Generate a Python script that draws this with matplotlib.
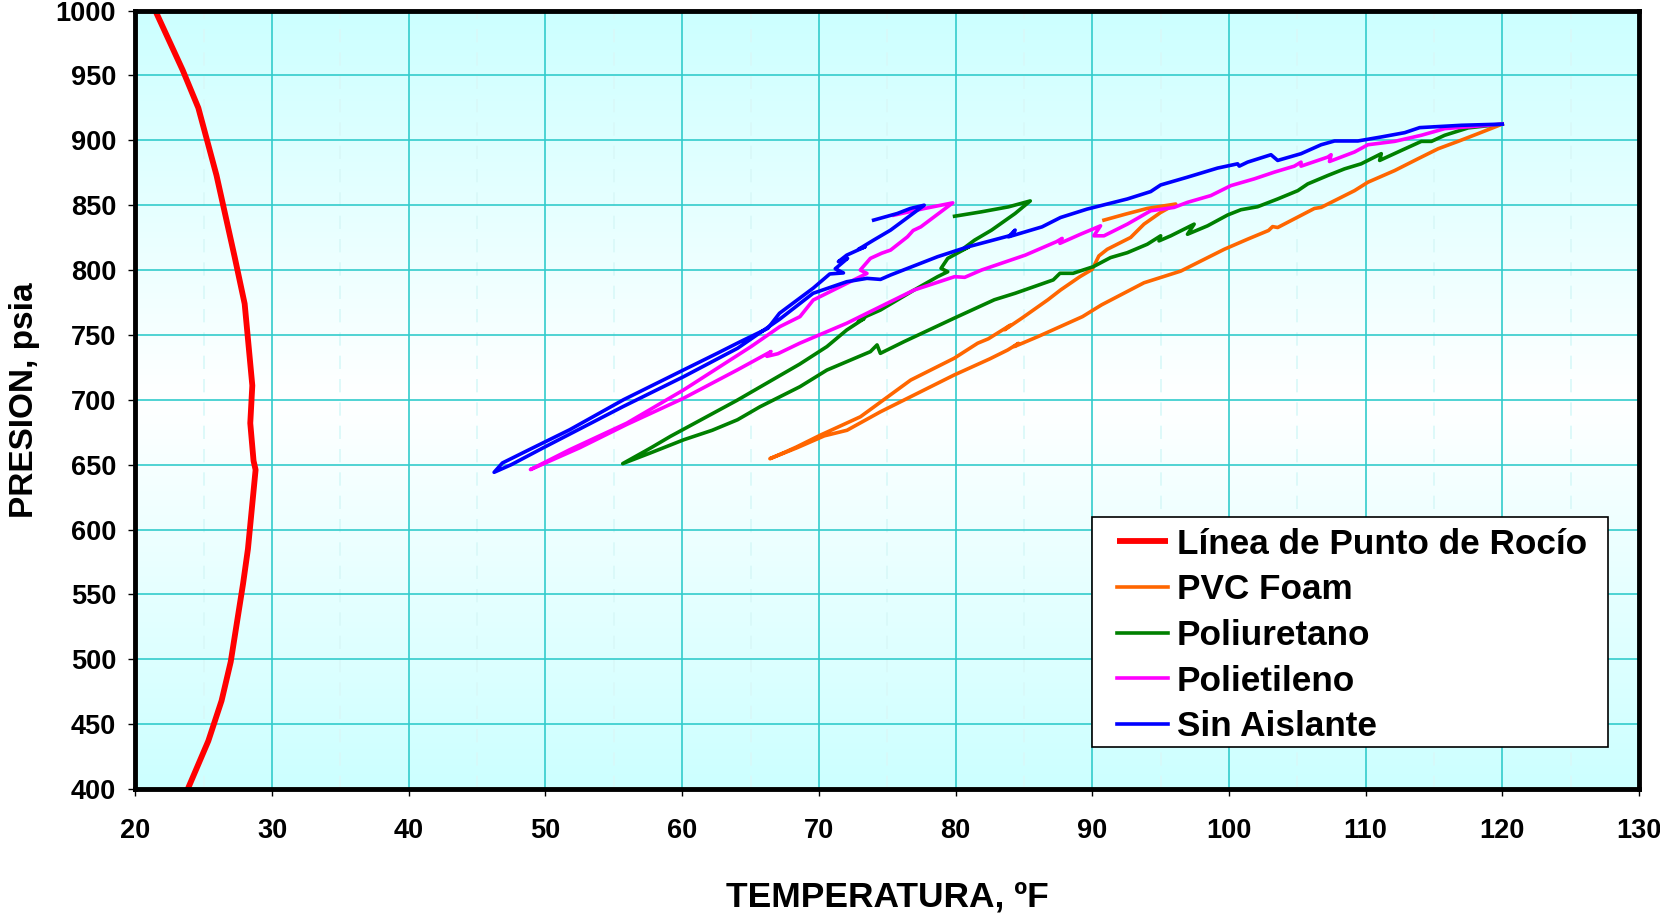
import numpy as np
import matplotlib
matplotlib.use("Agg")
from matplotlib import pyplot as plt
from matplotlib.ticker import MultipleLocator
from matplotlib.patches import Rectangle

plt.rcParams['font.family'] = ['Liberation Sans', 'DejaVu Sans']
plt.rcParams['font.weight'] = 'bold'

# Dew point line
rocio_t = [21.45, 23.46, 24.6, 25.93, 27.26, 27.99, 28.55, 28.4, 28.64, 28.79,
           28.23, 27.87, 26.97, 26.30, 25.33, 23.83]
rocio_p = [1000, 954, 925, 873, 810, 774, 711, 682, 653, 646,
           585, 558, 498, 468, 437, 400]

# PVC Foam
pvc_t = [90.86, 92.4, 94.03, 96.11, 95.01, 93.79, 92.81, 91.1, 90.49, 90.0,
         89.1, 87.68, 86.76, 84.85, 83.6, 84.0, 82.4, 81.62, 79.9, 76.72,
         73.04, 70.1, 68.38, 67.5, 66.42,
         68.4, 70.4, 72.06, 74.5, 79.9, 82.5, 83.82, 84.6, 84.3, 86.03,
         89.29, 90.69, 93.79, 96.48, 99.66, 101.37, 102.9, 103.2, 103.57, 106.26,
         106.75, 109.19, 110.17, 112.13, 113.84, 115.31, 116.77, 118.24, 120.0]
pvc_p = [838.5, 843, 847.5, 850.9, 844.4, 835.4, 825.1, 816, 810.9, 800.5,
         794.9, 784.6, 777.1, 762.9, 754, 757.5, 747, 743.6, 732, 715.2,
         686.9, 672.7, 663.7, 659.5, 654.6,
         663, 672.2, 676.5, 690.7, 719.1, 731.5, 738.4, 743.5, 741.0, 748.7,
         764.1, 773.2, 790.2, 799.2, 816, 823.8, 830.5, 833.5, 832.8, 847.5,
         848.3, 861.2, 867.7, 876.7, 885.8, 893.5, 899.2, 905.2, 912.5]

# Poliuretano
poli_t = [79.93, 81.9, 83.87, 85.47, 84.36, 82.64, 81.4, 80.42, 81.0, 79.43,
          78.94, 79.43, 78.69, 76.97, 74.51, 73.5, 72.9, 73.3, 72.04, 70.59,
          68.6, 64.0, 59.14, 57.8, 57.3, 55.65,
          57.67, 60.12, 62.2, 64.05, 65.69, 68.62, 70.59, 73.77, 74.26, 74.5,
          76.23, 79.9, 82.84, 84.36, 87.15, 87.64, 88.6, 90.08, 91.34, 92.57,
          94.03, 95.01, 94.89, 95.75, 97.46, 96.97, 98.44, 99.9, 100.88, 102.1,
          103.57, 105.04, 105.77, 107.24, 108.46, 109.68, 111.15, 111.03, 112.62, 114.08,
          114.82, 115.79, 117.51, 120.0]
poli_p = [841.5, 844.9, 848.7, 853.3, 843.6, 830.8, 823.1, 815.4, 818.0, 809,
          801.3, 798.7, 794.9, 784.6, 769.2, 764.5, 760.5, 762.5, 753.8, 741,
          727.5, 699.5, 671.8, 663.5, 660.5, 650.8,
          659, 669.2, 676.5, 684.6, 694.6, 710.1, 722.9, 737.1, 742.3, 735.8,
          744.8, 762.9, 777.1, 782.1, 792.4, 797.5, 797.5, 802.6, 809.6, 813.4,
          819.9, 826.4, 822.5, 826.4, 835.4, 827.6, 834.1, 842.4, 846.5, 848.8,
          854.8, 861.2, 866.4, 872.9, 878, 881.9, 889.7, 884.5, 892.2, 899.2,
          899.2, 903.9, 909.6, 912.5]

# Polietileno
pe_t = [75.49, 77.7, 79.8, 77.46, 76.9, 76.48, 75.25, 74.6, 73.77, 73.03,
        73.52, 72.04, 69.59, 68.62, 67.15, 65.04, 60.12, 55.95, 51.77, 48.9,
        52.5, 55.95, 60.12, 64.05, 66.5, 66.2, 67.0, 68.6, 72.04, 76.97,
        79.93, 80.67, 81.9, 85.1, 87.39, 87.8, 87.64, 89.14, 90.61, 90.12,
        90.86, 92.57, 94.28, 95.99, 96.97, 98.68, 100.15, 101.86, 103.33, 104.79,
        105.28, 105.28, 107.24, 107.48, 107.36, 109.19, 110.17, 112.13, 114.08, 115.79,
        120.0]
pe_p = [842.3, 847.4, 851.8, 833.3, 830.5, 825.6, 815.4, 813, 809, 800,
        797.4, 789.7, 776.9, 764.1, 756.4, 741, 707.7, 682, 661.5, 646.2,
        663, 681, 701.3, 723.1, 737.2, 733.5, 735.5, 743.6, 759, 784.6,
        794.9, 794.4, 800, 811.5, 821.9, 824.4, 820.6, 827.6, 834.1, 826.4,
        826.4, 835.4, 845.7, 848.3, 852.2, 857.4, 865.1, 870.3, 875.5, 880.1,
        883.2, 880.1, 887.1, 888.9, 883.7, 891, 896.6, 899.2, 903.9, 909,
        912.5]

# Sin Aislante
sin_t = [74.01, 75.74, 76.7, 77.71, 75.25, 74.01, 72.9, 73.4, 72.04, 71.43,
         72.1, 71.2, 71.8, 70.8, 69.58, 67.12, 66.27, 64.2, 62.58, 60.12,
         55.7, 51.77, 48.8, 46.85, 46.24,
         47.5, 49.8, 55.7, 60.12, 64.05, 67.12, 69.58, 72.04, 73.52, 74.51,
         75.25, 78.69, 80.91, 84.11, 84.36, 83.87, 86.33, 87.68, 89.63, 91.1,
         92.57, 94.28, 95.01, 96.97, 99.17, 100.64, 100.76, 101.37, 103.08, 103.57,
         105.28, 106.75, 107.73, 109.44, 111.15, 112.86, 113.96, 117.02, 120.0]
sin_p = [838.5, 843.6, 847.5, 850, 830.8, 823.1, 816.0, 818.0, 811.5, 806.5,
         809.0, 801.0, 797.8, 797.0, 786.0, 766.7, 755.1, 744.5, 735.9, 723.1,
         700, 676.9, 661.5, 651.3, 644.1,
         650, 662.8, 694.9, 717.9, 739.7, 762.0, 782.1, 791, 793.6, 792.8,
         796.2, 810.3, 817.9, 826.9, 830.8, 825.6, 833.3, 840.5, 847, 850.9,
         854.8, 860.5, 865.6, 871.6, 878.6, 881.9, 880.1, 883.2, 888.9, 884.5,
         889.7, 896.6, 899.5, 899.5, 902.6, 905.9, 909.8, 911.6, 912.5]

fig = plt.figure(figsize=(16.6, 9.14), dpi=100)
ax = fig.add_axes([0.0816, 0.1368, 0.9057, 0.8516])

# background gradient: cyan at top and bottom, white in the middle
g = np.abs(np.linspace(-1, 1, 256))[:, None]
img = np.dstack([1 - 0.2 * g, np.ones_like(g), np.ones_like(g)])
ax.imshow(img, extent=[20, 130, 400, 1000], aspect='auto', origin='lower', zorder=-1)

ax.plot(rocio_t, rocio_p, color='#ff0000', lw=4.2, label='Línea de Punto de Rocío', solid_capstyle='butt')
ax.plot(pvc_t, pvc_p, color='#ff6600', lw=2.6, label='PVC Foam')
ax.plot(poli_t, poli_p, color='#008000', lw=2.6, label='Poliuretano')
ax.plot(pe_t, pe_p, color='#ff00ff', lw=2.6, label='Polietileno')
ax.plot(sin_t, sin_p, color='#0000ff', lw=2.6, label='Sin Aislante')

ax.set_xlim(20, 130)
ax.set_ylim(400, 1000)
ax.xaxis.set_major_locator(MultipleLocator(10))
ax.xaxis.set_minor_locator(MultipleLocator(5))
ax.yaxis.set_major_locator(MultipleLocator(50))

ax.set_axisbelow(True)
ax.grid(which='major', color='#33cccc', lw=1.2)
ax.grid(which='minor', axis='x', color='#d8f8f8', lw=1.2, ls=(0, (8, 6)))

for s in ax.spines.values():
    s.set_linewidth(3.5)
    s.set_color('black')

ax.tick_params(which='major', direction='out', length=5, width=1, labelsize=19.5)
ax.tick_params(which='minor', length=0)
ax.tick_params(axis='x', pad=16)
ax.tick_params(axis='y', pad=9)
for lbl in ax.get_xticklabels() + ax.get_yticklabels():
    lbl.set_fontweight('bold')

ax.set_xlabel('TEMPERATURA, ºF', fontsize=25.5, fontweight='bold', labelpad=26)
ax.set_ylabel('PRESION, psia', fontsize=24, fontweight='bold', labelpad=11)

# legend box drawn by hand so the padding matches
ax.add_patch(Rectangle((0.6359, 0.0534), 0.9794 - 0.6359, 0.3499 - 0.0534,
                       transform=ax.transAxes, facecolor='white', edgecolor='black',
                       lw=1.2, zorder=5))
leg = ax.legend(loc='upper left', bbox_to_anchor=(0.6528, 0.3357), borderaxespad=0,
                borderpad=0, frameon=False, prop={'size': 25.3, 'weight': 'bold'},
                handlelength=1.45, handletextpad=0.26, labelspacing=0.36)
leg.set_zorder(6)

fig.savefig('out.png', dpi=100)
